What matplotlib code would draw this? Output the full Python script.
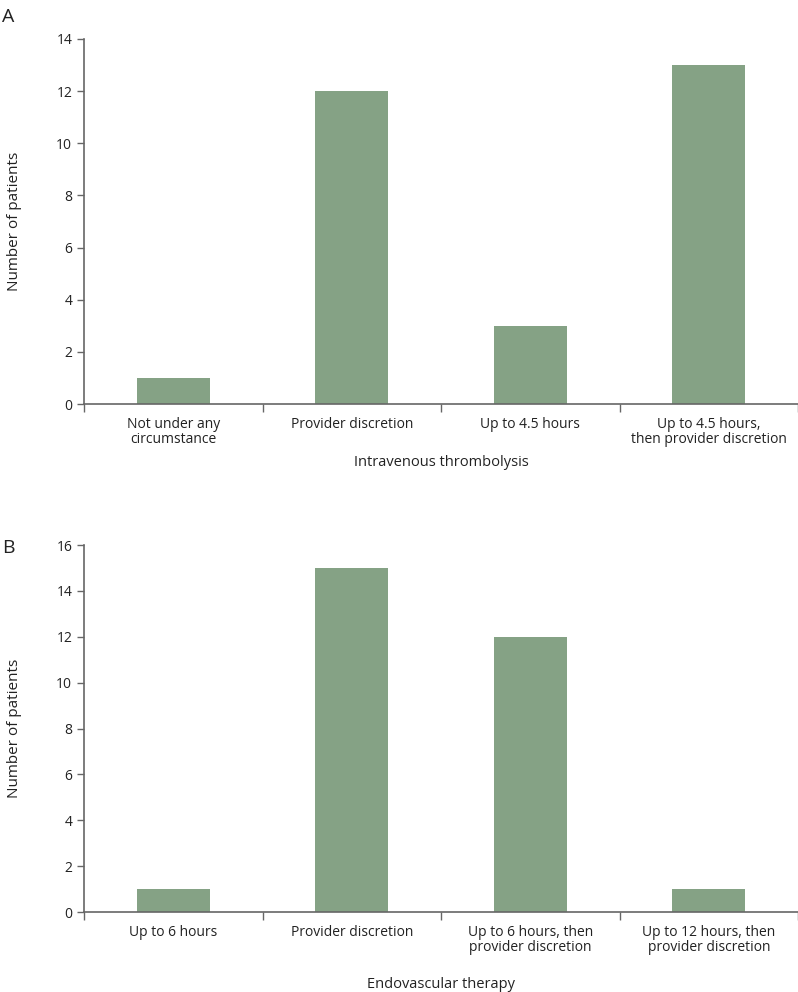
import numpy as np
import matplotlib
matplotlib.use("Agg")
import matplotlib.pyplot as plt

plt.rcParams.update({"font.family": ["Open Sans", "DejaVu Sans"], "font.size": 10})

# ── Data ──────────────────────────────────────────────────────────────
cats_a = ["Not under any\ncircumstance", "Provider discretion",
          "Up to 4.5 hours", "Up to 4.5 hours,\nthen provider discretion"]
vals_a = [1, 12, 3, 13]

cats_b = ["Up to 6 hours", "Provider discretion",
          "Up to 6 hours, then\nprovider discretion",
          "Up to 12 hours, then\nprovider discretion"]
vals_b = [1, 15, 12, 1]

BAR = "#85a285"
AX = "#666666"

fig = plt.figure(figsize=(7.98, 9.92), dpi=100)
ax1 = fig.add_axes([0.1053, 0.5927, 0.8947, 0.368])
ax2 = fig.add_axes([0.1053, 0.0806, 0.8947, 0.370])


def panel(ax, cats, vals, ymax, xlabel, pad):
    x = np.arange(len(cats))
    ax.bar(x, vals, width=0.41, color=BAR)
    ax.set_xlim(-0.5, len(cats) - 0.5)
    ax.set_ylim(0, ymax)
    ax.set_yticks(np.arange(0, ymax + 1, 2))
    ax.set_xticks(x)
    ax.set_xticklabels(cats, fontsize=10, color="#222222", linespacing=1.0)
    ax.tick_params(axis="x", length=0, pad=9)
    ax.set_xticks(np.arange(-0.5, len(cats), 1), minor=True)
    ax.tick_params(axis="x", which="minor", length=6, color=AX, width=1)
    ax.tick_params(axis="y", length=5, color=AX, width=1, labelsize=10,
                   labelcolor="#222222")
    for s in ["top", "right"]:
        ax.spines[s].set_visible(False)
    for s in ["left", "bottom"]:
        ax.spines[s].set_color(AX)
        ax.spines[s].set_linewidth(1.2)
    ax.set_ylabel("Number of patients", fontsize=11, labelpad=25,
                  color="#222222")
    ax.set_xlabel(xlabel, fontsize=10.5, labelpad=pad, color="#222222")


panel(ax1, cats_a, vals_a, 14, "Intravenous thrombolysis", 6)
panel(ax2, cats_b, vals_b, 16, "Endovascular therapy", 16)

fig.text(0.003, 0.978, "A", fontsize=14, color="#222222")
fig.text(0.003, 0.443, "B", fontsize=14, color="#222222")

fig.savefig("out.png", dpi=100)
